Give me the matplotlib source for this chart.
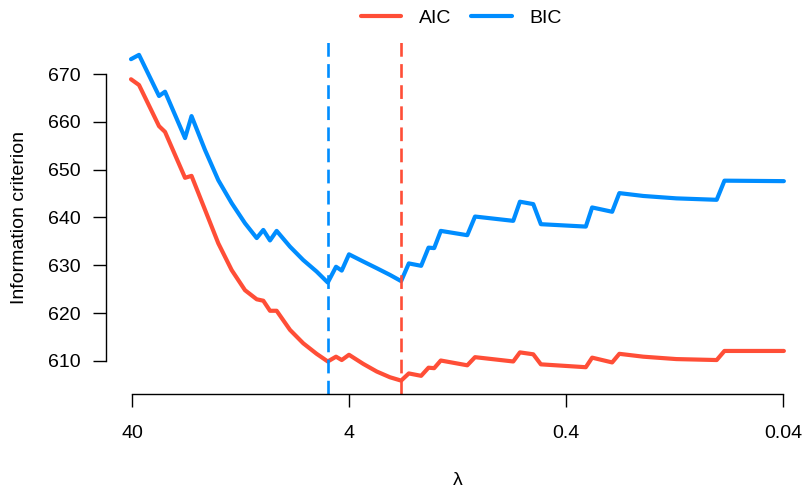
import matplotlib
matplotlib.use("Agg")
import matplotlib.pyplot as plt
import numpy as np

plt.rcParams['font.family'] = ['Liberation Sans', 'DejaVu Sans']

# lambda values (decreasing)
lam = [40.43, 37.14, 30.03, 28.18, 22.79, 21.27, 18.43, 16.01, 13.89, 12.06,
       10.65, 9.93, 9.25, 8.62, 7.48, 6.50, 5.64, 5.01, 4.59, 4.32,
       4.00, 3.44, 2.98, 2.59, 2.30, 2.12, 1.86, 1.72, 1.62, 1.51,
       1.14, 1.05, 0.700, 0.652, 0.566, 0.522, 0.324, 0.303, 0.245, 0.227,
       0.176, 0.124, 0.0808, 0.0744, 0.0396]

aic = [668.9, 667.7, 659.1, 657.9, 648.3, 648.7, 641.6, 634.6, 629.0, 624.8,
       622.9, 622.6, 620.5, 620.5, 616.5, 613.7, 611.5, 609.9, 610.9, 610.2,
       611.3, 609.4, 607.8, 606.6, 605.9, 607.4, 606.9, 608.6, 608.5, 610.1,
       609.1, 610.8, 609.9, 611.8, 611.4, 609.3, 608.7, 610.7, 609.7, 611.5,
       610.9, 610.4, 610.2, 612.1, 612.1]

bic = [673.1, 674.0, 665.4, 666.3, 656.6, 661.2, 654.1, 647.8, 643.0, 638.8,
       635.7, 637.4, 635.2, 637.2, 633.9, 631.1, 628.7, 626.4, 629.7, 628.9,
       632.3, 630.8, 629.4, 628.0, 626.7, 630.4, 629.9, 633.7, 633.6, 637.2,
       636.3, 640.2, 639.3, 643.3, 642.8, 638.6, 638.1, 642.1, 641.2, 645.1,
       644.5, 644.0, 643.7, 647.7, 647.6]

series_names = ["AIC", "BIC"]
x_ticks = [40, 4, 0.4, 0.04]
x_ticklabels = ["40", "4", "0.4", "0.04"]
y_ticks = [610, 620, 630, 640, 650, 660, 670]

red = "#FF4E37"
blue = "#008DFF"

fig = plt.figure(figsize=(8.05, 4.90), dpi=100)
ax = fig.add_axes([106/805, 1 - 394/490, 1 - 106/805, (394 - 42)/490])

ax.set_xscale("log")
ax.set_xlim(52.72, 0.03165)
ax.set_ylim(603.10, 676.69)

la, = ax.plot(lam, aic, color=red, lw=3.0, solid_joinstyle="round", solid_capstyle="round", label=series_names[0])
lb, = ax.plot(lam, bic, color=blue, lw=3.0, solid_joinstyle="round", solid_capstyle="round", label=series_names[1])

ax.axvline(lam[int(np.argmin(bic))], color=blue, lw=1.9, linestyle=(0, (5.2, 2.8)))
ax.axvline(lam[int(np.argmin(aic))], color=red, lw=1.9, linestyle=(0, (5.2, 2.8)))

for s in ["top", "right"]:
    ax.spines[s].set_visible(False)
ax.spines["left"].set_bounds(610, 670)
ax.spines["bottom"].set_bounds(0.04, 40)
for s in ["left", "bottom"]:
    ax.spines[s].set_linewidth(1.0)

ax.set_xticks(x_ticks)
ax.set_xticklabels(x_ticklabels)
ax.xaxis.set_minor_locator(matplotlib.ticker.NullLocator())
ax.set_yticks(y_ticks)
ax.tick_params(axis="both", which="major", direction="out", length=9.4, width=1.0, labelsize=14)
ax.tick_params(axis="x", pad=13)
ax.tick_params(axis="y", pad=9)

ax.set_xlabel("λ", fontsize=14)
ax.set_ylabel("Information criterion", fontsize=14)
ax.xaxis.set_label_coords((458 - 106) / 699, -(472 - 394) / 352)
ax.yaxis.set_label_coords((28 - 106) / 699, 0.5)

fig.legend(handles=[la, lb], loc="center", bbox_to_anchor=(461/805, 1 - 18/490),
           ncol=2, frameon=False, fontsize=14, handlelength=2.1,
           handletextpad=0.9, columnspacing=1.0)

fig.savefig("out.png", dpi=100)
